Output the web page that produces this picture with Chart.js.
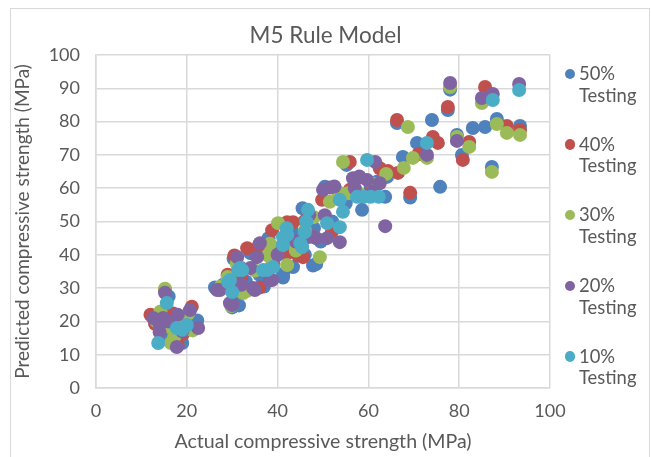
<!DOCTYPE html>
<html lang="en">
  <head>
    <title>M5 Rule Model</title>
    <meta charset="utf-8">
    <script src="https://cdn.jsdelivr.net/npm/chart.js@4.4.0/dist/chart.umd.min.js"></script>
    <style>
      html, body { margin: 0; padding: 0; background: #fff; overflow: hidden; }
      #frame { position: absolute; left: 10px; top: 8px; width: 638px; height: 470px; border: 1px solid #d9d9d9; }
      #chart_m5 { position: absolute; left: 0; top: 0; }
      #legend { position: absolute; left: 0; top: 0; font-family: Lato, sans-serif; color: #595959; }
      .item { position: absolute; font-size: 18.4px; line-height: 21.5px; }
      .dot { position: absolute; width: 10.6px; height: 10.6px; border-radius: 50%; }
    </style>
  </head>
  <body>
    <div id="frame"></div>
    <canvas id="chart_m5" width="651" height="457"></canvas>
    <div id="legend"></div>

    <script>
      // [actual, predicted] pairs
      const test50 = [
        [13.2,20.5],[14.5,22.5],[16.5,19.5],[14.2,17.2],[18.5,15.5],[21.5,19.5],[22.3,20.3],[16,27.5],[19,13.5],[20.5,22.5],[15,15],
        [26.2,30.2],[28,31],[30,24.2],[30.3,38.8],[33,32],[36,34],[41.2,34.2],[41.2,33.2],[43.4,36.3],[47.8,36.8],[48.5,37.2],
        [40,42],[48,48],[52,50],[44,46],[38,45],[46,40],[34,40.5],[30.5,28],[32,36],[43,48.5],[45.5,54],[37,30.5],[31.5,24.8],
        [49.5,44],[39.5,39.5],
        [50.4,60.4],[55.2,67],[58.6,53.5],[63.7,57.4],[64.1,63.4],[67.6,69.4],[69.2,57.2],[70.7,73.6],[74,80.5],[77.5,83.5],
        [78,89.6],[79.5,76],[80.6,70],[75.8,60.4],[83,78.1],[85.7,78.4],[88.3,80.8],[93.4,78.7],[87.2,66.4],[66.3,79.6],
        [60.5,60],[56,58],[62,62],[72,72],[55,55.5]
      ];
      const test40 = [
        [12,22],[15.2,29.4],[21.1,24.4],[14,20.2],[16.3,18.2],[19.2,16.3],[17,22.4],[13,19.3],[18,13],
        [30.5,39.8],[33.3,42],[35.7,42.3],[38.8,47.4],[43.4,49.8],[42.1,49.8],[45.6,39.3],[44.5,39.8],[29,34],[36,30.2],
        [39,37.3],[46,50.2],[52,47],[49.8,56.5],[48,45.3],[32,33.2],[42,40.3],[27,29.8],[30,25.2],
        [55.9,67.9],[55.9,59.5],[64.3,65.2],[66.3,80.5],[66.5,64.6],[69.2,58.6],[74.2,75.4],[75.3,73.6],[77.5,84.4],
        [82.2,73.9],[80.8,68.5],[85.7,90.4],[90.5,78.7],[93.4,77.5],[60,58.2],[58,63.2],[71,70.2],[62.5,66]
      ];
      const test30 = [
        [15.2,29.8],[16.2,18.3],[17.2,15.2],[14.2,23],[20.3,22.3],[13.3,20],[18.3,19.3],[21.3,17.3],[16.5,13.5],
        [29,33.3],[32.4,28.5],[33.3,29.2],[37.9,39.9],[38.3,39.3],[40.1,49.5],[42.1,36.9],[49.3,39.3],[44,41.3],
        [51.5,55.9],[53.3,58.9],[31,37.3],[35,35.3],[46,47.3],[42,44.3],[48,51.3],[38.3,43.3],[27.5,30.5],[29.8,24.6],
        [54.4,67.9],[63.9,64.3],[68.7,78.4],[69.8,69.1],[67.8,66.1],[72.9,69.1],[78,90.4],[79.5,75.4],[82.2,72.4],
        [85,85.6],[88.3,79.3],[90.5,76.6],[93.4,76],[87.2,64.9],[61,61.3],[58,58.3],[55.5,58.5]
      ];
      const test20 = [
        [12.6,21],[14.8,21],[15.2,28.6],[14,16.8],[17.8,12.3],[20.7,23.4],[22.5,18],[16,20],[19,17],[14,19],[18,22],
        [26.7,29.4],[27.3,29.4],[29.5,25.5],[30,24.9],[31.1,39.3],[34.6,30],[35,29.4],[35.5,39.3],[36.1,43.5],[38.8,32.4],
        [38.3,32.4],[40,40],[44,44],[46.7,45.3],[48.5,45],[50.9,45],[53.7,43.8],[50.4,51.9],[50,59.5],[47,52],[34,36],
        [32,31],[51.5,60.2],[52.5,60.5],
        [56.6,63],[58,63.5],[59.7,62.5],[61.5,67.9],[63.7,48.6],[72.9,70],[78,91.6],[79.5,74.2],[85,87.1],[87.4,88.3],
        [93.2,91.3],[61,59],[57,60],[62.5,61.5]
      ];
      const test10 = [
        [15.6,25.5],[13.7,13.5],[17.8,18],[20,18.9],[19,17.5],
        [29.1,31.8],[29.5,32.4],[30,28.8],[31.3,35.4],[31.7,36],[32.2,35.4],[36.8,35.4],[37.7,35.4],[39,36.3],[41.2,45.3],
        [41.2,42.9],[42.1,45.9],[45,43.5],[45.4,42.3],[46,46.8],[46.7,53.5],[50.9,49.5],[53.7,48.3],[54.4,52.9],[53.7,56.5],
        [42,48],[46.3,50],
        [57.5,57.4],[59,57.4],[60.5,57.4],[62.3,57.4],[59.7,68.5],[72.9,73.6],[87.4,86.5],[93.2,89.5]
      ];

      const seriesNames = ["50% Testing", "40% Testing", "30% Testing", "20% Testing", "10% Testing"];
      const seriesData = [test50, test40, test30, test20, test10];
      const seriesColors = ["#4f81bd", "#c0504d", "#9bbb59", "#8064a2", "#4bacc6"];

      const textColor = "#595959";
      const gridColor = "#d9d9d9";

      Chart.defaults.font.family = "Lato, sans-serif";
      Chart.defaults.color = textColor;

      const chart = new Chart("chart_m5", {
        type: "scatter",
        data: {
          datasets: seriesNames.map((name, i) => ({
            label: name,
            data: seriesData[i].map(p => ({ x: p[0], y: p[1] })),
            backgroundColor: seriesColors[i],
            borderColor: seriesColors[i],
            borderWidth: 0,
            pointRadius: 7,
            pointHoverRadius: 7,
            // later series sit on top, as in the original
            order: seriesNames.length - 1 - i
          }))
        },
        options: {
          responsive: false,
          animation: false,
          events: [],
          layout: { padding: 0 },
          plugins: {
            legend: { display: false },
            tooltip: { enabled: false },
            title: {
              display: true,
              text: "M5 Rule Model",
              color: textColor,
              font: { size: 22.5, weight: "normal" },
              padding: { top: 22, bottom: 6 }
            }
          },
          scales: {
            x: {
              type: "linear",
              min: 0, max: 100,
              ticks: { stepSize: 20, font: { size: 18 }, padding: 12 },
              grid: { color: gridColor, lineWidth: 1.5, drawTicks: false },
              border: { color: gridColor, width: 1.5 },
              title: {
                display: true,
                text: "Actual compressive strength (MPa)",
                font: { size: 19.6 },
                padding: { top: 0, bottom: 4 }
              },
              afterFit: s => { s.height = 69; }
            },
            y: {
              min: 0, max: 100,
              ticks: { stepSize: 10, font: { size: 18 }, padding: 16 },
              grid: { color: gridColor, lineWidth: 1.5, drawTicks: false },
              border: { color: gridColor, width: 1.5 },
              title: {
                display: true,
                text: "Predicted compressive strength (MPa)",
                font: { size: 19 },
                padding: { top: 11, bottom: 0 }
              },
              afterFit: s => { s.width = 96; }
            },
            // empty box on the right that leaves room for the legend
            side: {
              position: "right",
              min: 0, max: 100,
              ticks: { display: false },
              grid: { display: false, drawTicks: false },
              border: { display: false },
              afterFit: s => { s.width = 101; }
            }
          }
        }
      });

      // two-line legend on the right, built from the datasets
      const legend = document.getElementById("legend");
      chart.data.datasets.forEach((ds, i) => {
        const cy = 74 + 70.6 * i;
        const dot = document.createElement("div");
        dot.className = "dot";
        dot.style.background = ds.backgroundColor;
        dot.style.left = (570 - 5.3) + "px";
        dot.style.top = (cy - 5.3) + "px";
        legend.appendChild(dot);
        const item = document.createElement("div");
        item.className = "item";
        item.style.left = "579px";
        item.style.top = (cy - 10.75) + "px";
        item.innerHTML = ds.label.split(" ").join("<br>");
        legend.appendChild(item);
      });
    </script>
  </body>
</html>
